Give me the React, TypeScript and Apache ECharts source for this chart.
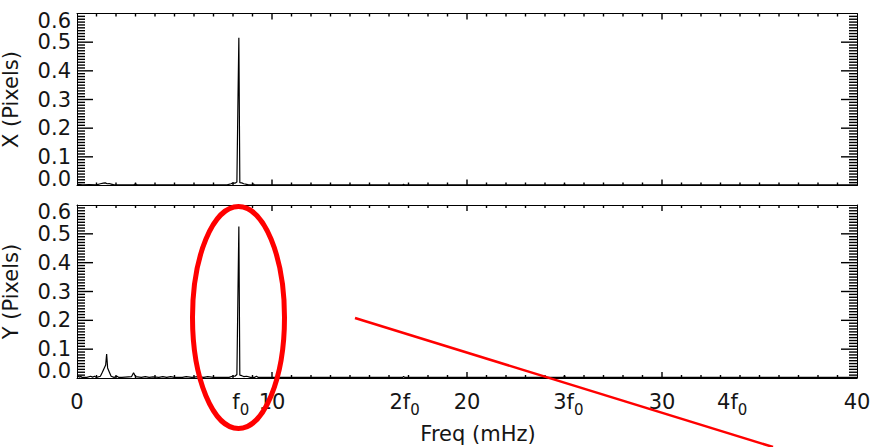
import React, { useEffect, useRef } from "react";
import * as echarts from "echarts";

// Fundamental frequency (mHz) used for the harmonic annotations
const F0 = 8.4;
const harmonicMultiples = [1, 2, 3, 4];
const harmonicPrefixes = ["", "2", "3", "4"];

// Axis ranges and tick steps
const FREQ_MAX = 40;
const AMP_MAX = 0.6;
const freqMinorStep = 1;
const freqMajorEvery = 10;
const ampMinorStep = 0.01;
const ampMajorEvery = 10;

// X (Pixels) amplitude spectrum
const xPanelFreq = [0, 0.3, 0.6, 1.0, 1.2, 1.35, 1.45, 1.55, 1.65, 1.75, 1.9, 2.9, 3.0, 3.1, 7.7, 7.9, 8.0, 8.1, 8.2, 8.25, 8.3, 8.35, 8.45, 8.55, 8.7, 8.8, 9.0, 9.05, 9.1, 16.7, 16.75, 16.8, 24.95, 25.0, 25.05, 40];
const xPanelAmp = [0.004, 0.002, 0.003, 0.002, 0.006, 0.008, 0.009, 0.006, 0.007, 0.005, 0.002, 0.002, 0.006, 0.002, 0.002, 0.006, 0.009, 0.008, 0.012, 0.275, 0.515, 0.01, 0.009, 0.006, 0.004, 0.002, 0.002, 0.006, 0.002, 0.002, 0.004, 0.002, 0.002, 0.005, 0.002, 0.002];

// Y (Pixels) amplitude spectrum
const yPanelFreq = [0, 0.15, 0.2, 0.25, 0.5, 0.7, 0.8, 0.9, 1.0, 1.2, 1.3, 1.4, 1.47, 1.52, 1.57, 1.65, 1.75, 1.9, 2.05, 2.15, 2.3, 2.8, 2.9, 3.0, 3.3, 3.5, 3.7, 3.9, 4.2, 4.4, 4.6, 4.8, 5.0, 5.4, 5.6, 5.9, 6.2, 6.5, 6.7, 7.0, 7.3, 7.8, 8.0, 8.1, 8.2, 8.25, 8.3, 8.35, 8.45, 8.55, 8.7, 8.9, 9.1, 9.2, 9.3, 10, 16.7, 16.75, 16.8, 24.95, 25.0, 25.05, 40];
const yPanelAmp = [0.008, 0.003, 0.006, 0.002, 0.002, 0.006, 0.003, 0.006, 0.002, 0.006, 0.02, 0.035, 0.045, 0.083, 0.035, 0.022, 0.006, 0.002, 0.006, 0.002, 0.002, 0.005, 0.018, 0.005, 0.002, 0.005, 0.002, 0.004, 0.002, 0.005, 0.002, 0.005, 0.002, 0.002, 0.005, 0.002, 0.005, 0.002, 0.005, 0.002, 0.002, 0.002, 0.007, 0.006, 0.012, 0.275, 0.525, 0.01, 0.008, 0.005, 0.006, 0.002, 0.002, 0.006, 0.002, 0.002, 0.002, 0.005, 0.002, 0.002, 0.008, 0.002, 0.002];

const xAxisTitle = "Freq (mHz)";
const topTitle = "X (Pixels)";
const bottomTitle = "Y (Pixels)";

export default function App() {
  const ref = useRef<HTMLDivElement>(null);

  useEffect(() => {
    const chart = echarts.init(ref.current!, null, { renderer: "svg" });
    const font = "DejaVu Sans";
    const txtColor = "#151515";
    const lab = () => ({ fontFamily: font, fontSize: 21, color: txtColor });
    const black = () => ({ color: "#000", width: 1 });

    const xAx = (gridIndex: number, position: string, showLabel: boolean, extra: any = {}) => ({
      type: "value",
      gridIndex,
      position,
      min: 0,
      max: FREQ_MAX,
      interval: 10,
      axisLine: { show: true, onZero: false, lineStyle: black() },
      axisTick: { show: false },
      minorTick: { show: false },
      splitLine: { show: false },
      minorSplitLine: { show: false },
      axisLabel: { show: showLabel, ...lab(), lineHeight: 14, margin: 17, showMinLabel: true, showMaxLabel: true },
      ...extra,
    });

    const yAx = (gridIndex: number, position: string, showLabel: boolean, name?: string) => ({
      type: "value",
      gridIndex,
      position,
      min: 0,
      max: AMP_MAX,
      interval: 0.1,
      axisLine: { show: true, onZero: false, lineStyle: black() },
      axisTick: { show: false },
      minorTick: { show: false },
      splitLine: { show: false },
      minorSplitLine: { show: false },
      axisLabel: {
        show: showLabel,
        ...lab(),
        lineHeight: 14,
        margin: 6,
        showMinLabel: true,
        showMaxLabel: true,
        formatter: (v: number) => v.toFixed(1),
        verticalAlignMinLabel: "bottom",
        verticalAlignMaxLabel: "top",
      },
      name: name || "",
      nameLocation: "middle",
      nameGap: 56,
      nameTextStyle: lab(),
    });

    const zip = (a: number[], b: number[]) => a.map((v, i) => [v, b[i]]);

    const annotations: any[] = [
      {
        id: "ellipse",
        type: "ellipse",
        z: 100,
        shape: { cx: 238.5, cy: 317.5, rx: 46, ry: 111 },
        style: { fill: "none", stroke: "#ff0000", lineWidth: 5 },
      },
      {
        id: "slash",
        type: "line",
        z: 100,
        shape: { x1: 355, y1: 318, x2: 773, y2: 447 },
        style: { stroke: "#ff0000", lineWidth: 2.5 },
      },
    ];

    chart.setOption({
      animation: false,
      backgroundColor: "#fff",
      grid: [
        { left: 77, top: 13.5, width: 780, height: 172, outerBoundsMode: "none", containLabel: false },
        { left: 77, top: 205, width: 780, height: 173, outerBoundsMode: "none", containLabel: false },
      ],
      xAxis: [
        xAx(0, "bottom", false),
        xAx(0, "top", false),
        xAx(1, "bottom", true, {
          name: xAxisTitle,
          nameLocation: "middle",
          nameGap: 45,
          nameTextStyle: { ...lab(), padding: [0, 0, 0, 22] },
        }),
        xAx(1, "top", false),
      ],
      yAxis: [
        yAx(0, "left", true, topTitle),
        yAx(0, "right", false),
        yAx(1, "left", true, bottomTitle),
        yAx(1, "right", false),
      ],
      series: [
        {
          type: "line",
          xAxisIndex: 0,
          yAxisIndex: 0,
          data: zip(xPanelFreq, xPanelAmp),
          showSymbol: false,
          lineStyle: { color: "#000", width: 1.2 },
          silent: true,
        },
        {
          type: "line",
          xAxisIndex: 2,
          yAxisIndex: 2,
          data: zip(yPanelFreq, yPanelAmp),
          showSymbol: false,
          lineStyle: { color: "#000", width: 1.2 },
          silent: true,
        },
      ],
      graphic: annotations,
    });

    const tickStyle = { stroke: "#000", lineWidth: 1.4 };

    // Frame ticks drawn from the axes' own pixel mapping
    const panelTicks = (xi: number, yi: number, key: string) => {
      const children: any[] = [];
      const xl = chart.convertToPixel({ xAxisIndex: xi }, 0) as number;
      const xr = chart.convertToPixel({ xAxisIndex: xi }, FREQ_MAX) as number;
      const yb = chart.convertToPixel({ yAxisIndex: yi }, 0) as number;
      const yt = chart.convertToPixel({ yAxisIndex: yi }, AMP_MAX) as number;
      const nAmp = Math.round(AMP_MAX / ampMinorStep);
      for (let i = 1; i < nAmp; i++) {
        const y = chart.convertToPixel({ yAxisIndex: yi }, i * ampMinorStep) as number;
        const len = i % ampMajorEvery === 0 ? 16 : 8;
        children.push({ type: "line", shape: { x1: xl, y1: y, x2: xl + len, y2: y }, style: tickStyle, silent: true });
        children.push({ type: "line", shape: { x1: xr - len, y1: y, x2: xr, y2: y }, style: tickStyle, silent: true });
      }
      const nFreq = Math.round(FREQ_MAX / freqMinorStep);
      for (let i = 1; i < nFreq; i++) {
        const x = chart.convertToPixel({ xAxisIndex: xi }, i * freqMinorStep) as number;
        const len = i % freqMajorEvery === 0 ? 6 : 3;
        children.push({ type: "line", shape: { x1: x, y1: yb, x2: x, y2: yb - len }, style: tickStyle, silent: true });
        children.push({ type: "line", shape: { x1: x, y1: yt, x2: x, y2: yt + len }, style: tickStyle, silent: true });
      }
      return { id: key, type: "group", z: 40, children };
    };

    // Harmonic labels (f0, 2f0, ...) placed through the bottom frequency axis scale
    const baseY = chart.convertToPixel({ yAxisIndex: 2 }, 0) as number;
    const harmonicTexts = harmonicMultiples.map((m, i) => ({
      id: "harm" + i,
      type: "text",
      z: 50,
      x: chart.convertToPixel({ xAxisIndex: 2 }, m * F0) as number,
      y: baseY + 9,
      style: {
        text: "{f|" + harmonicPrefixes[i] + "f}{s|0}",
        align: "center",
        verticalAlign: "top",
        rich: {
          f: { fontFamily: font, fontSize: 21, fill: txtColor, lineHeight: 30 },
          s: { fontFamily: font, fontSize: 15, fill: txtColor, lineHeight: 17, verticalAlign: "bottom" },
        },
      },
    }));

    chart.setOption({
      graphic: [...annotations, ...harmonicTexts, panelTicks(0, 0, "ticksTop"), panelTicks(2, 2, "ticksBottom")],
    });

    return () => chart.dispose();
  }, []);

  return (
    <div
      ref={ref}
      style={{ position: "fixed", left: 0, top: 0, width: 872, height: 447, background: "#fff" }}
    />
  );
}
